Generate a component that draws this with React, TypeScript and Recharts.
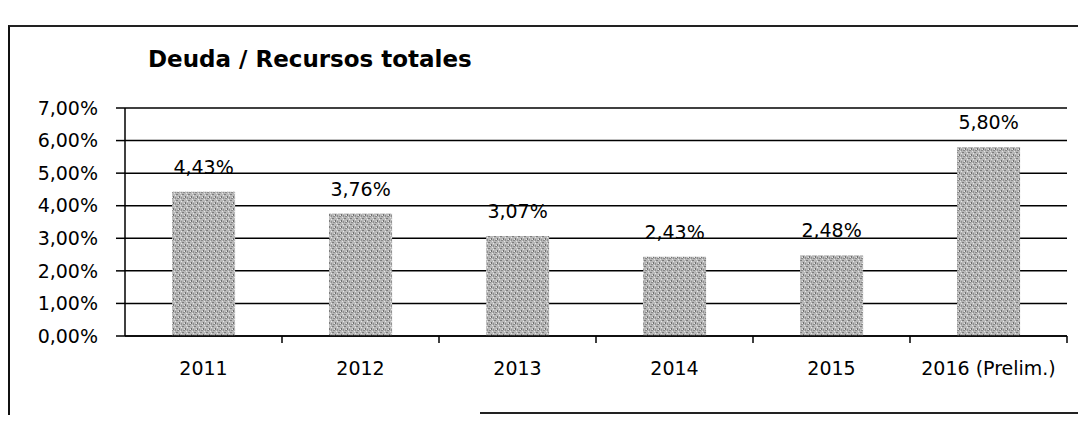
import { Bar, BarChart, CartesianGrid, LabelList, XAxis, YAxis } from "recharts";

const YEARS = ["2011", "2012", "2013", "2014", "2015", "2016 (Prelim.)"];
const DEBT_RATIO = [4.43, 3.76, 3.07, 2.43, 2.48, 5.8];
const Y_TICKS = [0, 1, 2, 3, 4, 5, 6, 7];

const FONT = "'DejaVu Sans', sans-serif";
const X_TICK_SIZE = 6;
const X_TICK_MARGIN = 20;

const fmtPct = (v: number | string) => `${Number(v).toFixed(2).replace(".", ",")}%`;

// category label plus a tick mark on the band boundary (Excel style)
function YearTick(props: any) {
  const { x, y, payload } = props;
  const axisY = y - X_TICK_SIZE - X_TICK_MARGIN;
  const half = payload.offset ?? 0;
  return (
    <g>
      <line x1={x + half} x2={x + half} y1={axisY} y2={axisY + 7} stroke="#000" strokeWidth={1.5} />
      <text x={x} y={y} dy="0.71em" textAnchor="middle" fill="#000" fontSize={19} fontFamily={FONT}>
        {payload.value}
      </text>
    </g>
  );
}

export default function App(): React.ReactElement {
  const data = YEARS.map((year, i) => ({ year, value: DEBT_RATIO[i] }));

  return (
    <div style={{ position: "relative", width: 1070, height: 407, fontFamily: FONT }}>
      {/* scanned frame edges */}
      <div
        style={{
          position: "absolute",
          left: 0,
          top: 17,
          width: 1078,
          height: 400,
          borderLeft: "2px solid #111",
          borderTop: "2px solid #222",
        }}
      />
      <div
        style={{
          position: "absolute",
          left: 472,
          top: 404,
          width: 606,
          height: 0,
          borderTop: "2px solid #222",
        }}
      />
      <div
        style={{
          position: "absolute",
          left: 140,
          top: 40,
          fontSize: 23,
          lineHeight: 1,
          fontWeight: "bold",
          color: "#000",
        }}
      >
        Deuda / Recursos totales
      </div>
      <BarChart
        width={1070}
        height={407}
        data={data}
        margin={{ top: 100, right: 11, bottom: 0, left: 0 }}
        barCategoryGap="30%"
        style={{ position: "absolute", left: 0, top: 0 }}
      >
        <defs>
          <pattern id="scan" width="6" height="6" patternUnits="userSpaceOnUse">
            <rect width="6" height="6" fill="#b8b8b8" />
            <rect x="0" y="0" width="2" height="1" fill="#7c7c7c" />
            <rect x="3" y="2" width="1" height="2" fill="#6e6e6e" />
            <rect x="1" y="4" width="2" height="1" fill="#8a8a8a" />
            <rect x="5" y="3" width="1" height="2" fill="#909090" />
            <rect x="4" y="5" width="1" height="1" fill="#e2e2e2" />
            <rect x="5" y="1" width="1" height="1" fill="#e8e8e8" />
            <rect x="2" y="3" width="1" height="1" fill="#eaeaea" />
          </pattern>
        </defs>
        <CartesianGrid vertical={false} stroke="#000" strokeWidth={1.5} />
        <XAxis
          dataKey="year"
          height={79}
          axisLine={{ stroke: "#000", strokeWidth: 1.5 }}
          tickLine={false}
          tickSize={X_TICK_SIZE}
          tickMargin={X_TICK_MARGIN}
          interval={0}
          tick={<YearTick />}
        />
        <YAxis
          domain={[0, 7]}
          ticks={Y_TICKS}
          width={117}
          tickSize={9}
          tickMargin={18}
          tickFormatter={fmtPct}
          axisLine={{ stroke: "#000", strokeWidth: 1.5 }}
          tickLine={{ stroke: "#000", strokeWidth: 1.5 }}
          tick={{ fill: "#000", fontSize: 19, fontFamily: FONT }}
        />
        <Bar dataKey="value" fill="url(#scan)" isAnimationActive={false}>
          <LabelList
            dataKey="value"
            position="top"
            offset={18}
            formatter={fmtPct}
            style={{ fill: "#000", fontSize: 19, fontFamily: FONT }}
          />
        </Bar>
      </BarChart>
    </div>
  );
}
